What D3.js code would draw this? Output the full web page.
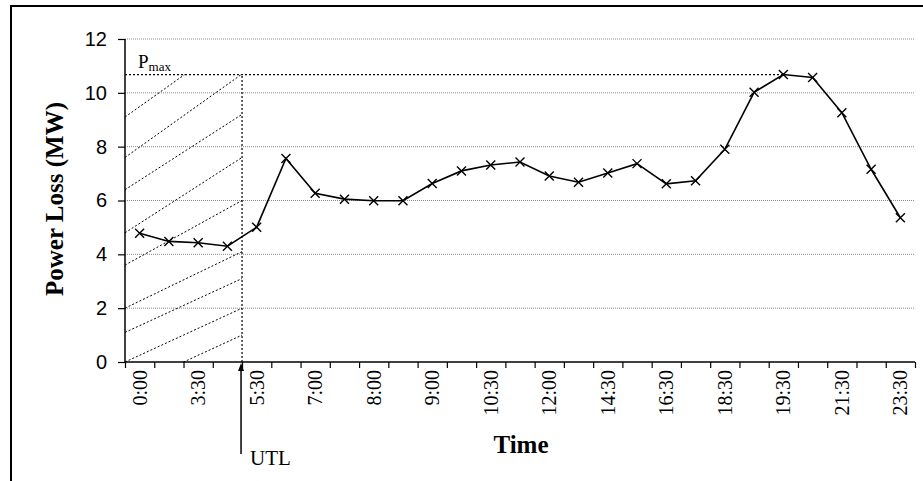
<!DOCTYPE html>
<html>
<head>
<meta charset="utf-8">
<script src="https://cdn.jsdelivr.net/npm/d3@7"></script>
<style>
  body { margin: 0; background: #fff; }
  svg { display: block; }
</style>
</head>
<body>
<div id="chart"></div>
<script>
// half-hour slots, only every other one is labelled on the axis
var times = ["0:00","","3:30","","5:30","","7:00","","8:00","","9:00","","10:30","","12:00",
             "","14:30","","16:30","","18:30","","19:30","","21:30","","23:30"];
var powerLoss = [4.78,4.48,4.43,4.30,5.01,7.56,6.27,6.05,5.99,5.99,6.63,7.10,7.32,7.43,6.91,
                 6.68,7.02,7.37,6.62,6.73,7.90,10.02,10.68,10.57,9.26,7.16,5.36];
var yTicks = [0,2,4,6,8,10,12];
// hatch lines in the UTL zone: value at the y axis and at the UTL line (MW)
var hatchLeft  = [9.1, 7.6, 6.4, 4.8, 3.6, 2.0, 1.1, 0.0, -1.0];
var hatchRight = [12.2, 10.7, 9.2, 7.6, 6.0, 4.1, 3.1, 2.0, 1.0];
var utlIndex = 4;

var width = 923, height = 481;
var plotLeft = 125, plotRight = 915, plotTop = 39, plotBottom = 362;

var svg = d3.select('#chart').append('svg')
  .attr('width', width)
  .attr('height', height);

// outer frame (runs off the right and bottom edges)
svg.append('rect')
  .attr('x', 11).attr('y', 6)
  .attr('width', 1000).attr('height', 600)
  .attr('fill', 'none')
  .attr('stroke', '#000')
  .attr('stroke-width', 2);

var x = d3.scaleLinear().domain([0, times.length]).range([plotLeft, plotRight]);
var y = d3.scaleLinear().domain([0, 12]).range([plotBottom, plotTop]);

// gridlines
svg.append('g').selectAll('line')
  .data(yTicks.slice(1))
  .enter().append('line')
  .attr('x1', plotLeft).attr('x2', plotRight)
  .attr('y1', function(d){ return y(d); })
  .attr('y2', function(d){ return y(d); })
  .attr('stroke', '#8a8a8a')
  .attr('stroke-width', 1)
  .attr('stroke-dasharray', '1,1');

var pmax = d3.max(powerLoss);
var pmaxIdx = powerLoss.indexOf(pmax);

// hatched UTL zone
svg.append('clipPath').attr('id', 'utlClip')
  .append('rect')
  .attr('x', plotLeft).attr('y', y(pmax))
  .attr('width', x(utlIndex) - plotLeft)
  .attr('height', y(0) - y(pmax));

svg.append('g').attr('clip-path', 'url(#utlClip)')
  .selectAll('line')
  .data(hatchLeft)
  .enter().append('line')
  .attr('x1', x(0)).attr('x2', x(utlIndex))
  .attr('y1', function(d){ return y(d); })
  .attr('y2', function(d, i){ return y(hatchRight[i]); })
  .attr('stroke', '#000')
  .attr('stroke-width', 1)
  .attr('stroke-dasharray', '2,2');

// Pmax line and UTL boundary
svg.append('line')
  .attr('x1', plotLeft).attr('x2', x(pmaxIdx + 0.5))
  .attr('y1', y(pmax)).attr('y2', y(pmax))
  .attr('stroke', '#000').attr('stroke-width', 1.2)
  .attr('stroke-dasharray', '2,2');

svg.append('line')
  .attr('x1', x(utlIndex)).attr('x2', x(utlIndex))
  .attr('y1', y(0)).attr('y2', y(pmax))
  .attr('stroke', '#000').attr('stroke-width', 1.2)
  .attr('stroke-dasharray', '2,2');

svg.append('text')
  .attr('x', 138).attr('y', 68)
  .attr('font-family', 'Liberation Serif, Times New Roman, serif')
  .attr('font-size', '19px')
  .text('P')
  .append('tspan')
  .attr('dy', 3)
  .attr('font-size', '13px')
  .text('max');

// axes
var yAxis = svg.append('g')
  .attr('transform', 'translate(' + plotLeft + ',0)')
  .call(d3.axisLeft(y).tickValues(yTicks).tickSize(7).tickPadding(11));
yAxis.select('.domain').attr('stroke-width', 1.5).attr('d', 'M0,' + y(12) + 'V' + y(0));
yAxis.selectAll('text')
  .attr('font-family', 'Liberation Sans, Arial, sans-serif')
  .attr('font-size', '20px')
  .attr('fill', '#000');

var xAxis = svg.append('g')
  .attr('transform', 'translate(0,' + plotBottom + ')')
  .call(d3.axisBottom(x).tickValues(d3.range(times.length + 1)).tickSize(6).tickFormat(''));
xAxis.select('.domain').attr('stroke-width', 1.5).attr('d', 'M' + plotLeft + ',0H' + plotRight);
xAxis.selectAll('line').attr('stroke-width', 1.2);
yAxis.selectAll('line').attr('stroke-width', 1.2);

svg.append('g').selectAll('text')
  .data(times)
  .enter().append('text')
  .attr('transform', function(d, i){ return 'translate(' + x(i + 0.5) + ',' + (plotBottom + 8) + ') rotate(-90)'; })
  .attr('text-anchor', 'end')
  .attr('dy', '0.35em')
  .attr('font-family', 'Liberation Serif, Times New Roman, serif')
  .attr('font-size', '20px')
  .text(function(d){ return d; });

// axis titles
svg.append('text')
  .attr('transform', 'translate(63,199) rotate(-90)')
  .attr('text-anchor', 'middle')
  .attr('font-family', 'Liberation Serif, Times New Roman, serif')
  .attr('font-weight', 'bold')
  .attr('font-size', '25px')
  .text('Power Loss (MW)');

svg.append('text')
  .attr('x', 521).attr('y', 453)
  .attr('text-anchor', 'middle')
  .attr('font-family', 'Liberation Serif, Times New Roman, serif')
  .attr('font-weight', 'bold')
  .attr('font-size', '25px')
  .text('Time');

// UTL arrow
var ux = x(utlIndex) - 1;
svg.append('line')
  .attr('x1', ux).attr('x2', ux)
  .attr('y1', 454).attr('y2', plotBottom + 4)
  .attr('stroke', '#000').attr('stroke-width', 1.5);
svg.append('path')
  .attr('d', 'M' + ux + ',' + (plotBottom + 1) + 'L' + (ux - 3) + ',' + (plotBottom + 9) + 'L' + (ux + 3) + ',' + (plotBottom + 9) + 'Z')
  .attr('fill', '#000');
svg.append('text')
  .attr('x', 250).attr('y', 465)
  .attr('font-family', 'Liberation Serif, Times New Roman, serif')
  .attr('font-size', '21px')
  .text('UTL');

// power loss series
var line = d3.line()
  .x(function(d, i){ return x(i + 0.5); })
  .y(function(d){ return y(d); });

svg.append('path')
  .datum(powerLoss)
  .attr('d', line)
  .attr('fill', 'none')
  .attr('stroke', '#000')
  .attr('stroke-width', 1.6);

var m = 4.5;
svg.append('g').selectAll('path')
  .data(powerLoss)
  .enter().append('path')
  .attr('d', function(d, i){
    var cx = x(i + 0.5), cy = y(d);
    return 'M' + (cx - m) + ',' + (cy - m) + 'L' + (cx + m) + ',' + (cy + m) +
           'M' + (cx - m) + ',' + (cy + m) + 'L' + (cx + m) + ',' + (cy - m);
  })
  .attr('stroke', '#000')
  .attr('stroke-width', 1.4)
  .attr('fill', 'none');
</script>
</body>
</html>
